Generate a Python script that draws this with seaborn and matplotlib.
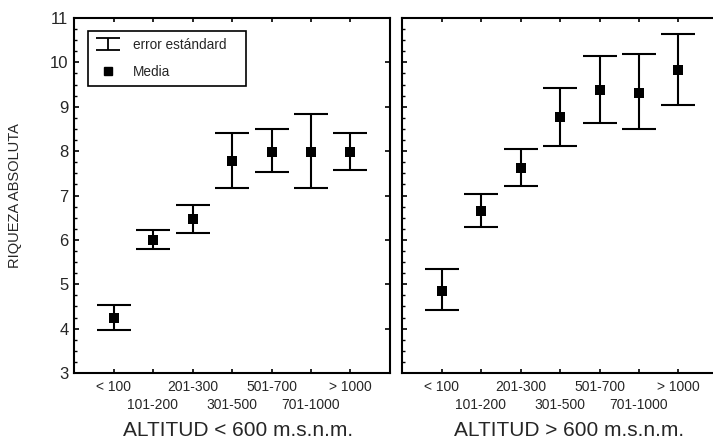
import numpy as np
import pandas as pd
import matplotlib
matplotlib.use("Agg")
import matplotlib.pyplot as plt
from matplotlib.lines import Line2D
from matplotlib.legend_handler import HandlerErrorbar
from matplotlib.ticker import MultipleLocator
import seaborn as sns

# ─── DATA ─────────────────────────────────────────────────
clases = ['< 100', '101-200', '201-300', '301-500', '501-700', '701-1000', '> 1000']

# altitud < 600 m.s.n.m.
media_baja = [4.25, 6.00, 6.47, 7.77, 7.97, 7.97, 7.97]
inf_baja   = [3.98, 5.79, 6.16, 7.16, 7.52, 7.16, 7.58]
sup_baja   = [4.54, 6.22, 6.79, 8.40, 8.49, 8.84, 8.40]

# altitud > 600 m.s.n.m.
media_alta = [4.85, 6.65, 7.62, 8.77, 9.38, 9.30, 9.83]
inf_alta   = [4.43, 6.28, 7.22, 8.12, 8.64, 8.49, 9.04]
sup_alta   = [5.35, 7.04, 8.04, 9.43, 10.15, 10.18, 10.64]

titulos = ['ALTITUD < 600 m.s.n.m.', 'ALTITUD > 600 m.s.n.m.']

# ─── STYLE ────────────────────────────────────────────────
sns.set_style("ticks")
plt.rcParams['font.family'] = ['Liberation Sans', 'DejaVu Sans']

fig = plt.figure(figsize=(7.13, 4.40), dpi=100)
ax1 = fig.add_axes([74/713, 1 - 373/440, 316/713, 355/440])
ax2 = fig.add_axes([402/713, 1 - 373/440, 316/713, 355/440])

x = np.arange(len(clases))
paneles = [
    (ax1, media_baja, inf_baja, sup_baja, titulos[0], 0.52),
    (ax2, media_alta, inf_alta, sup_alta, titulos[1], 0.53),
]

for ax, media, inf, sup, titulo, xlab in paneles:
    df = pd.DataFrame({'pos': x, 'media': media, 'inf': inf, 'sup': sup})
    yerr = [df['media'] - df['inf'], df['sup'] - df['media']]
    ax.errorbar(df['pos'], df['media'], yerr=yerr, fmt='none', ecolor='black',
                elinewidth=1.5, capsize=11.9, capthick=1.5, zorder=2)
    sns.scatterplot(data=df, x='pos', y='media', marker='s', s=50, color='black',
                    edgecolor='black', linewidth=0, ax=ax, zorder=3)

    ax.set_xlim(-1, 7)
    ax.set_ylim(3, 11)
    # staggered category labels: even ones on the first row, odd ones below
    ax.set_xticks(x[::2])
    ax.set_xticklabels(clases[::2], fontsize=10)
    ax.set_xticks(x[1::2], minor=True)
    ax.set_xticklabels(clases[1::2], minor=True, fontsize=10)
    ax.yaxis.set_major_locator(MultipleLocator(1))
    ax.yaxis.set_minor_locator(MultipleLocator(0.25))

    ax.tick_params(axis='both', which='both', direction='in', color='black')
    ax.tick_params(axis='x', which='both', top=True, length=3, width=1.2)
    ax.tick_params(axis='x', which='major', pad=5)
    ax.tick_params(axis='x', which='minor', pad=18)
    ax.tick_params(axis='y', which='major', length=3.5, width=1.2, pad=4, labelsize=12)
    ax.tick_params(axis='y', which='minor', length=2.5, width=1.0)

    for sp in ax.spines.values():
        sp.set_visible(True)
        sp.set_linewidth(1.5)
        sp.set_color('black')

    ax.set_xlabel(titulo, fontsize=15)
    ax.xaxis.set_label_coords(xlab, -0.135)
    ax.set_ylabel('')

# left panel: labels + major ticks on right spine
ax1.tick_params(axis='y', which='major', right=True)
ax1.tick_params(axis='y', which='minor', right=False)
ax1.set_ylabel('RIQUEZA ABSOLUTA', fontsize=10.5)
ax1.yaxis.set_label_coords(-0.166, 0.5)

# right panel: ticks on left spine, no labels; right edge is cut off
ax2.tick_params(axis='y', which='both', labelleft=False, right=False)
ax2.spines['right'].set_visible(False)

# ─── LEGEND ───────────────────────────────────────────────
proxy_err = ax1.errorbar([np.nan], [np.nan], yerr=[[0.1], [0.1]], fmt='none',
                         ecolor='black', elinewidth=1.3, capsize=8.6, capthick=1.3)
proxy_med = Line2D([], [], marker='s', color='black', linestyle='none', markersize=6)
leg = ax1.legend(handles=[proxy_err, proxy_med], labels=['error estándard', 'Media'],
                 handler_map={type(proxy_err): HandlerErrorbar(yerr_size=0.42)},
                 loc='upper left', bbox_to_anchor=(0.044, 0.80, 0.5, 0.163),
                 mode='expand', borderaxespad=0, frameon=True, fancybox=False,
                 edgecolor='black', framealpha=1, fontsize=9.8, labelspacing=0.95,
                 borderpad=0.5, handlelength=2.0, handletextpad=0.8)
leg.get_frame().set_linewidth(1.2)

fig.savefig('out.png', dpi=100)
